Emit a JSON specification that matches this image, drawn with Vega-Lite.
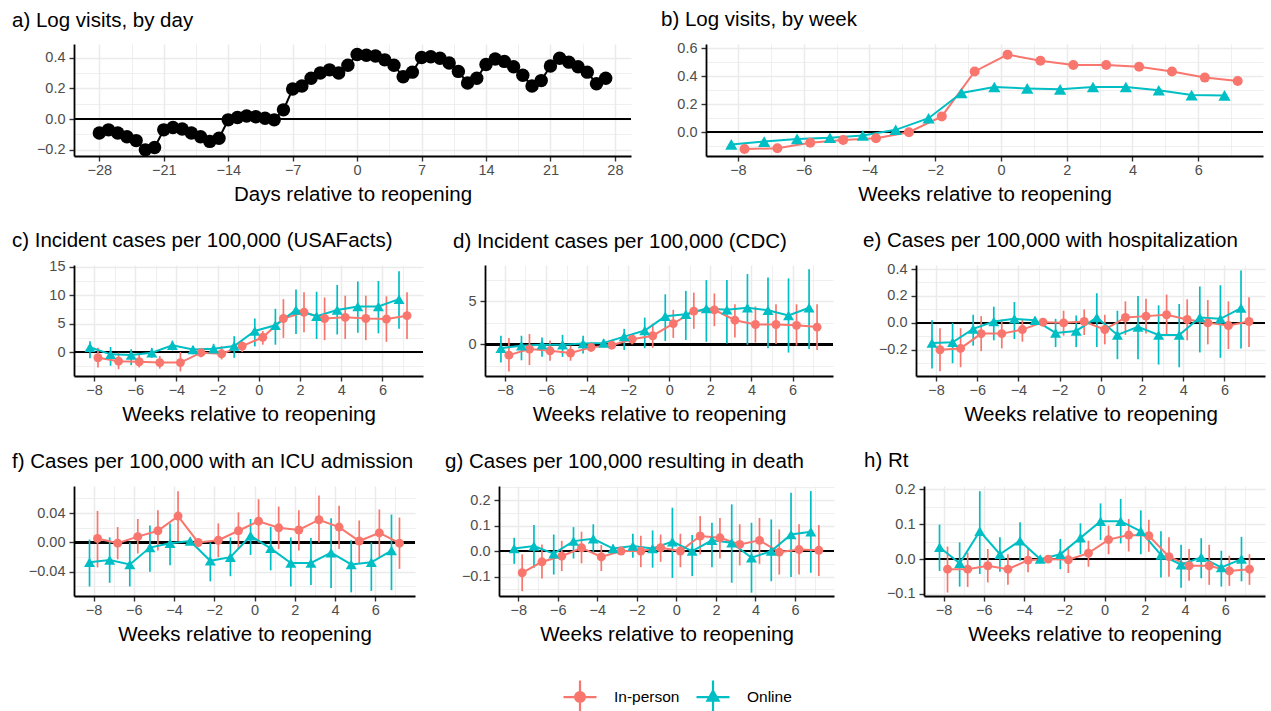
{
  "$schema": "https://vega.github.io/schema/vega-lite/v6.json",
  "background": "white",
  "padding": {"left": 12, "top": 10, "right": 0, "bottom": 0},
  "autosize": {"type": "pad"},
  "datasets": {
    "da": [
      {"d": -28, "v": -0.09}, {"d": -27, "v": -0.07}, {"d": -26, "v": -0.09}, {"d": -25, "v": -0.115}, {"d": -24, "v": -0.14}, {"d": -23, "v": -0.2}, {"d": -22, "v": -0.185}, {"d": -21, "v": -0.07}, {"d": -20, "v": -0.055}, {"d": -19, "v": -0.065}, {"d": -18, "v": -0.09}, {"d": -17, "v": -0.115}, {"d": -16, "v": -0.145}, {"d": -15, "v": -0.125}, {"d": -14, "v": -0.005}, {"d": -13, "v": 0.01}, {"d": -12, "v": 0.02}, {"d": -11, "v": 0.015}, {"d": -10, "v": 0.005}, {"d": -9, "v": -0.005}, {"d": -8, "v": 0.06}, {"d": -7, "v": 0.195}, {"d": -6, "v": 0.215}, {"d": -5, "v": 0.265}, {"d": -4, "v": 0.3}, {"d": -3, "v": 0.32}, {"d": -2, "v": 0.3}, {"d": -1, "v": 0.35}, {"d": 0, "v": 0.42}, {"d": 1, "v": 0.415}, {"d": 2, "v": 0.41}, {"d": 3, "v": 0.385}, {"d": 4, "v": 0.35}, {"d": 5, "v": 0.275}, {"d": 6, "v": 0.305}, {"d": 7, "v": 0.4}, {"d": 8, "v": 0.405}, {"d": 9, "v": 0.395}, {"d": 10, "v": 0.365}, {"d": 11, "v": 0.31}, {"d": 12, "v": 0.235}, {"d": 13, "v": 0.265}, {"d": 14, "v": 0.355}, {"d": 15, "v": 0.39}, {"d": 16, "v": 0.375}, {"d": 17, "v": 0.34}, {"d": 18, "v": 0.285}, {"d": 19, "v": 0.215}, {"d": 20, "v": 0.25}, {"d": 21, "v": 0.345}, {"d": 22, "v": 0.395}, {"d": 23, "v": 0.37}, {"d": 24, "v": 0.34}, {"d": 25, "v": 0.305}, {"d": 26, "v": 0.23}, {"d": 27, "v": 0.265}
    ],
    "db": [
      {"g": "In-person", "w": -8, "e": -0.12, "lo": -0.132, "hi": -0.108}, {"g": "In-person", "w": -7, "e": -0.115, "lo": -0.127, "hi": -0.103}, {"g": "In-person", "w": -6, "e": -0.075, "lo": -0.087, "hi": -0.063}, {"g": "In-person", "w": -5, "e": -0.055, "lo": -0.067, "hi": -0.043}, {"g": "In-person", "w": -4, "e": -0.043, "lo": -0.055, "hi": -0.031}, {"g": "In-person", "w": -3, "e": 0.0, "lo": -0.008, "hi": 0.008}, {"g": "In-person", "w": -2, "e": 0.113, "lo": 0.101, "hi": 0.125}, {"g": "In-person", "w": -1, "e": 0.434, "lo": 0.422, "hi": 0.446}, {"g": "In-person", "w": 0, "e": 0.554, "lo": 0.542, "hi": 0.566}, {"g": "In-person", "w": 1, "e": 0.51, "lo": 0.498, "hi": 0.522}, {"g": "In-person", "w": 2, "e": 0.48, "lo": 0.468, "hi": 0.492}, {"g": "In-person", "w": 3, "e": 0.48, "lo": 0.468, "hi": 0.492}, {"g": "In-person", "w": 4, "e": 0.467, "lo": 0.455, "hi": 0.479}, {"g": "In-person", "w": 5, "e": 0.434, "lo": 0.422, "hi": 0.446}, {"g": "In-person", "w": 6, "e": 0.39, "lo": 0.378, "hi": 0.402}, {"g": "In-person", "w": 7, "e": 0.366, "lo": 0.354, "hi": 0.378},
      {"g": "Online", "w": -8, "e": -0.087, "lo": -0.099, "hi": -0.075}, {"g": "Online", "w": -7, "e": -0.067, "lo": -0.079, "hi": -0.055}, {"g": "Online", "w": -6, "e": -0.048, "lo": -0.06, "hi": -0.036}, {"g": "Online", "w": -5, "e": -0.04, "lo": -0.052, "hi": -0.028}, {"g": "Online", "w": -4, "e": -0.024, "lo": -0.036, "hi": -0.012}, {"g": "Online", "w": -3, "e": 0.017, "lo": 0.009, "hi": 0.025}, {"g": "Online", "w": -2, "e": 0.1, "lo": 0.088, "hi": 0.112}, {"g": "Online", "w": -1, "e": 0.28, "lo": 0.268, "hi": 0.292}, {"g": "Online", "w": 0, "e": 0.323, "lo": 0.311, "hi": 0.335}, {"g": "Online", "w": 1, "e": 0.313, "lo": 0.301, "hi": 0.325}, {"g": "Online", "w": 2, "e": 0.306, "lo": 0.294, "hi": 0.318}, {"g": "Online", "w": 3, "e": 0.323, "lo": 0.311, "hi": 0.335}, {"g": "Online", "w": 4, "e": 0.323, "lo": 0.311, "hi": 0.335}, {"g": "Online", "w": 5, "e": 0.3, "lo": 0.288, "hi": 0.312}, {"g": "Online", "w": 6, "e": 0.265, "lo": 0.253, "hi": 0.277}, {"g": "Online", "w": 7, "e": 0.263, "lo": 0.251, "hi": 0.275}
    ],
    "dc": [
      {"g": "In-person", "w": -8, "e": -1.0, "lo": -2.7, "hi": 0.75}, {"g": "In-person", "w": -7, "e": -1.6, "lo": -3.0, "hi": -0.1}, {"g": "In-person", "w": -6, "e": -1.7, "lo": -2.7, "hi": -0.4}, {"g": "In-person", "w": -5, "e": -1.85, "lo": -2.9, "hi": -0.7}, {"g": "In-person", "w": -4, "e": -1.85, "lo": -3.4, "hi": 0.0}, {"g": "In-person", "w": -3, "e": -0.1, "lo": -0.9, "hi": 0.65}, {"g": "In-person", "w": -2, "e": -0.3, "lo": -1.3, "hi": 1.05}, {"g": "In-person", "w": -1, "e": 1.05, "lo": 0.0, "hi": 1.9}, {"g": "In-person", "w": 0, "e": 2.6, "lo": 1.3, "hi": 3.7}, {"g": "In-person", "w": 1, "e": 5.9, "lo": 2.5, "hi": 9.3}, {"g": "In-person", "w": 2, "e": 7.0, "lo": 3.5, "hi": 10.5}, {"g": "In-person", "w": 3, "e": 5.9, "lo": 2.1, "hi": 9.6}, {"g": "In-person", "w": 4, "e": 6.1, "lo": 2.3, "hi": 9.9}, {"g": "In-person", "w": 5, "e": 5.9, "lo": 2.1, "hi": 9.9}, {"g": "In-person", "w": 6, "e": 5.8, "lo": 1.8, "hi": 9.8}, {"g": "In-person", "w": 7, "e": 6.4, "lo": 2.3, "hi": 10.5},
      {"g": "Online", "w": -8, "e": 0.85, "lo": -1.1, "hi": 1.9}, {"g": "Online", "w": -7, "e": -0.4, "lo": -2.4, "hi": 0.9}, {"g": "Online", "w": -6, "e": -0.5, "lo": -2.3, "hi": 0.5}, {"g": "Online", "w": -5, "e": -0.1, "lo": -1.0, "hi": 0.75}, {"g": "Online", "w": -4, "e": 1.2, "lo": 0.3, "hi": 2.0}, {"g": "Online", "w": -3, "e": 0.45, "lo": -0.4, "hi": 1.05}, {"g": "Online", "w": -2, "e": 0.6, "lo": -0.3, "hi": 1.45}, {"g": "Online", "w": -1, "e": 1.05, "lo": -1.0, "hi": 2.8}, {"g": "Online", "w": 0, "e": 3.7, "lo": 1.0, "hi": 5.9}, {"g": "Online", "w": 1, "e": 4.7, "lo": 1.3, "hi": 7.6}, {"g": "Online", "w": 2, "e": 7.4, "lo": 3.2, "hi": 11.0}, {"g": "Online", "w": 3, "e": 6.3, "lo": 2.3, "hi": 10.6}, {"g": "Online", "w": 4, "e": 7.4, "lo": 3.1, "hi": 11.8}, {"g": "Online", "w": 5, "e": 8.0, "lo": 3.4, "hi": 12.4}, {"g": "Online", "w": 6, "e": 8.0, "lo": 3.3, "hi": 12.5}, {"g": "Online", "w": 7, "e": 9.3, "lo": 4.1, "hi": 14.2}
    ],
    "dd": [
      {"g": "In-person", "w": -8, "e": -1.25, "lo": -3.15, "hi": 0.75}, {"g": "In-person", "w": -7, "e": -0.55, "lo": -2.4, "hi": 1.2}, {"g": "In-person", "w": -6, "e": -0.75, "lo": -1.9, "hi": 0.45}, {"g": "In-person", "w": -5, "e": -1.0, "lo": -1.9, "hi": -0.15}, {"g": "In-person", "w": -4, "e": -0.35, "lo": -0.85, "hi": 0.25}, {"g": "In-person", "w": -3, "e": -0.1, "lo": -0.45, "hi": 0.35}, {"g": "In-person", "w": -2, "e": 0.6, "lo": 0.0, "hi": 1.2}, {"g": "In-person", "w": -1, "e": 1.0, "lo": -0.4, "hi": 2.4}, {"g": "In-person", "w": 0, "e": 2.4, "lo": 0.75, "hi": 4.0}, {"g": "In-person", "w": 1, "e": 3.85, "lo": 1.8, "hi": 6.0}, {"g": "In-person", "w": 2, "e": 4.0, "lo": 2.1, "hi": 5.9}, {"g": "In-person", "w": 3, "e": 2.8, "lo": 0.8, "hi": 4.65}, {"g": "In-person", "w": 4, "e": 2.3, "lo": 0.2, "hi": 4.4}, {"g": "In-person", "w": 5, "e": 2.3, "lo": 0.05, "hi": 4.65}, {"g": "In-person", "w": 6, "e": 2.2, "lo": -0.15, "hi": 4.65}, {"g": "In-person", "w": 7, "e": 2.0, "lo": -0.65, "hi": 4.65},
      {"g": "Online", "w": -8, "e": -0.45, "lo": -2.1, "hi": 1.0}, {"g": "Online", "w": -7, "e": -0.15, "lo": -1.85, "hi": 1.0}, {"g": "Online", "w": -6, "e": -0.05, "lo": -1.45, "hi": 0.8}, {"g": "Online", "w": -5, "e": -0.05, "lo": -1.45, "hi": 1.1}, {"g": "Online", "w": -4, "e": 0.1, "lo": -1.05, "hi": 1.0}, {"g": "Online", "w": -3, "e": 0.15, "lo": -0.35, "hi": 0.6}, {"g": "Online", "w": -2, "e": 0.9, "lo": -0.65, "hi": 1.8}, {"g": "Online", "w": -1, "e": 1.6, "lo": -0.45, "hi": 3.1}, {"g": "Online", "w": 0, "e": 3.25, "lo": 0.4, "hi": 5.8}, {"g": "Online", "w": 1, "e": 3.5, "lo": 0.5, "hi": 6.2}, {"g": "Online", "w": 2, "e": 4.15, "lo": 0.3, "hi": 7.45}, {"g": "Online", "w": 3, "e": 4.0, "lo": 0.1, "hi": 7.45}, {"g": "Online", "w": 4, "e": 4.25, "lo": -0.05, "hi": 8.15}, {"g": "Online", "w": 5, "e": 3.95, "lo": -0.45, "hi": 7.75}, {"g": "Online", "w": 6, "e": 3.35, "lo": -0.95, "hi": 7.65}, {"g": "Online", "w": 7, "e": 4.25, "lo": -0.55, "hi": 8.7}
    ],
    "de": [
      {"g": "In-person", "w": -8, "e": -0.2, "lo": -0.36, "hi": -0.04}, {"g": "In-person", "w": -7, "e": -0.19, "lo": -0.33, "hi": -0.04}, {"g": "In-person", "w": -6, "e": -0.08, "lo": -0.21, "hi": 0.05}, {"g": "In-person", "w": -5, "e": -0.08, "lo": -0.19, "hi": 0.025}, {"g": "In-person", "w": -4, "e": -0.05, "lo": -0.14, "hi": 0.025}, {"g": "In-person", "w": -3, "e": 0.005, "lo": -0.02, "hi": 0.03}, {"g": "In-person", "w": -2, "e": 0.0, "lo": -0.095, "hi": 0.09}, {"g": "In-person", "w": -1, "e": 0.01, "lo": -0.09, "hi": 0.1}, {"g": "In-person", "w": 0, "e": -0.05, "lo": -0.16, "hi": 0.06}, {"g": "In-person", "w": 1, "e": 0.04, "lo": -0.09, "hi": 0.16}, {"g": "In-person", "w": 2, "e": 0.05, "lo": -0.08, "hi": 0.18}, {"g": "In-person", "w": 3, "e": 0.06, "lo": -0.095, "hi": 0.21}, {"g": "In-person", "w": 4, "e": 0.025, "lo": -0.13, "hi": 0.175}, {"g": "In-person", "w": 5, "e": 0.0, "lo": -0.16, "hi": 0.17}, {"g": "In-person", "w": 6, "e": -0.02, "lo": -0.195, "hi": 0.16}, {"g": "In-person", "w": 7, "e": 0.01, "lo": -0.18, "hi": 0.19},
      {"g": "Online", "w": -8, "e": -0.15, "lo": -0.34, "hi": 0.02}, {"g": "Online", "w": -7, "e": -0.145, "lo": -0.3, "hi": 0.0}, {"g": "Online", "w": -6, "e": -0.045, "lo": -0.17, "hi": 0.06}, {"g": "Online", "w": -5, "e": 0.01, "lo": -0.13, "hi": 0.12}, {"g": "Online", "w": -4, "e": 0.03, "lo": -0.12, "hi": 0.155}, {"g": "Online", "w": -3, "e": 0.02, "lo": 0.0, "hi": 0.04}, {"g": "Online", "w": -2, "e": -0.075, "lo": -0.18, "hi": 0.03}, {"g": "Online", "w": -1, "e": -0.06, "lo": -0.18, "hi": 0.055}, {"g": "Online", "w": 0, "e": 0.04, "lo": -0.18, "hi": 0.22}, {"g": "Online", "w": 1, "e": -0.09, "lo": -0.27, "hi": 0.09}, {"g": "Online", "w": 2, "e": -0.03, "lo": -0.27, "hi": 0.2}, {"g": "Online", "w": 3, "e": -0.09, "lo": -0.31, "hi": 0.13}, {"g": "Online", "w": 4, "e": -0.09, "lo": -0.33, "hi": 0.14}, {"g": "Online", "w": 5, "e": 0.04, "lo": -0.22, "hi": 0.27}, {"g": "Online", "w": 6, "e": 0.03, "lo": -0.26, "hi": 0.28}, {"g": "Online", "w": 7, "e": 0.11, "lo": -0.19, "hi": 0.39}
    ],
    "df": [
      {"g": "In-person", "w": -8, "e": 0.0055, "lo": -0.034, "hi": 0.043}, {"g": "In-person", "w": -7, "e": -0.001, "lo": -0.023, "hi": 0.021}, {"g": "In-person", "w": -6, "e": 0.008, "lo": -0.015, "hi": 0.032}, {"g": "In-person", "w": -5, "e": 0.016, "lo": -0.011, "hi": 0.044}, {"g": "In-person", "w": -4, "e": 0.036, "lo": 0.002, "hi": 0.07}, {"g": "In-person", "w": -3, "e": 0.0, "lo": -0.004, "hi": 0.004}, {"g": "In-person", "w": -2, "e": 0.003, "lo": -0.02, "hi": 0.026}, {"g": "In-person", "w": -1, "e": 0.016, "lo": -0.009, "hi": 0.041}, {"g": "In-person", "w": 0, "e": 0.029, "lo": 0.0, "hi": 0.059}, {"g": "In-person", "w": 1, "e": 0.02, "lo": -0.009, "hi": 0.049}, {"g": "In-person", "w": 2, "e": 0.017, "lo": -0.011, "hi": 0.044}, {"g": "In-person", "w": 3, "e": 0.031, "lo": 0.0, "hi": 0.064}, {"g": "In-person", "w": 4, "e": 0.021, "lo": -0.009, "hi": 0.05}, {"g": "In-person", "w": 5, "e": 0.002, "lo": -0.028, "hi": 0.03}, {"g": "In-person", "w": 6, "e": 0.013, "lo": -0.02, "hi": 0.045}, {"g": "In-person", "w": 7, "e": -0.001, "lo": -0.036, "hi": 0.034},
      {"g": "Online", "w": -8, "e": -0.027, "lo": -0.06, "hi": 0.004}, {"g": "Online", "w": -7, "e": -0.024, "lo": -0.055, "hi": 0.007}, {"g": "Online", "w": -6, "e": -0.03, "lo": -0.06, "hi": 0.0}, {"g": "Online", "w": -5, "e": -0.007, "lo": -0.04, "hi": 0.023}, {"g": "Online", "w": -4, "e": -0.001, "lo": -0.031, "hi": 0.026}, {"g": "Online", "w": -3, "e": 0.002, "lo": -0.002, "hi": 0.006}, {"g": "Online", "w": -2, "e": -0.025, "lo": -0.053, "hi": 0.0}, {"g": "Online", "w": -1, "e": -0.02, "lo": -0.046, "hi": 0.007}, {"g": "Online", "w": 0, "e": 0.009, "lo": -0.017, "hi": 0.032}, {"g": "Online", "w": 1, "e": -0.008, "lo": -0.038, "hi": 0.021}, {"g": "Online", "w": 2, "e": -0.028, "lo": -0.06, "hi": 0.007}, {"g": "Online", "w": 3, "e": -0.028, "lo": -0.058, "hi": 0.006}, {"g": "Online", "w": 4, "e": -0.014, "lo": -0.062, "hi": 0.033}, {"g": "Online", "w": 5, "e": -0.03, "lo": -0.068, "hi": 0.003}, {"g": "Online", "w": 6, "e": -0.027, "lo": -0.066, "hi": 0.0}, {"g": "Online", "w": 7, "e": -0.011, "lo": -0.065, "hi": 0.038}
    ],
    "dg": [
      {"g": "In-person", "w": -8, "e": -0.085, "lo": -0.157, "hi": -0.013}, {"g": "In-person", "w": -7, "e": -0.042, "lo": -0.107, "hi": 0.026}, {"g": "In-person", "w": -6, "e": -0.02, "lo": -0.078, "hi": 0.04}, {"g": "In-person", "w": -5, "e": 0.013, "lo": -0.048, "hi": 0.076}, {"g": "In-person", "w": -4, "e": -0.023, "lo": -0.078, "hi": 0.024}, {"g": "In-person", "w": -3, "e": 0.0, "lo": -0.013, "hi": 0.013}, {"g": "In-person", "w": -2, "e": 0.0, "lo": -0.063, "hi": 0.06}, {"g": "In-person", "w": -1, "e": 0.013, "lo": -0.042, "hi": 0.065}, {"g": "In-person", "w": 0, "e": 0.0, "lo": -0.063, "hi": 0.068}, {"g": "In-person", "w": 1, "e": 0.059, "lo": -0.013, "hi": 0.137}, {"g": "In-person", "w": 2, "e": 0.052, "lo": -0.029, "hi": 0.13}, {"g": "In-person", "w": 3, "e": 0.026, "lo": -0.056, "hi": 0.105}, {"g": "In-person", "w": 4, "e": 0.042, "lo": -0.05, "hi": 0.13}, {"g": "In-person", "w": 5, "e": -0.004, "lo": -0.092, "hi": 0.085}, {"g": "In-person", "w": 6, "e": 0.006, "lo": -0.092, "hi": 0.105}, {"g": "In-person", "w": 7, "e": 0.003, "lo": -0.098, "hi": 0.102},
      {"g": "Online", "w": -8, "e": 0.01, "lo": -0.05, "hi": 0.052}, {"g": "Online", "w": -7, "e": 0.02, "lo": -0.065, "hi": 0.102}, {"g": "Online", "w": -6, "e": -0.01, "lo": -0.092, "hi": 0.065}, {"g": "Online", "w": -5, "e": 0.039, "lo": -0.029, "hi": 0.094}, {"g": "Online", "w": -4, "e": 0.048, "lo": -0.007, "hi": 0.105}, {"g": "Online", "w": -3, "e": 0.01, "lo": -0.006, "hi": 0.026}, {"g": "Online", "w": -2, "e": 0.02, "lo": -0.026, "hi": 0.068}, {"g": "Online", "w": -1, "e": 0.01, "lo": -0.065, "hi": 0.081}, {"g": "Online", "w": 0, "e": 0.037, "lo": -0.105, "hi": 0.17}, {"g": "Online", "w": 1, "e": 0.0, "lo": -0.098, "hi": 0.063}, {"g": "Online", "w": 2, "e": 0.042, "lo": -0.063, "hi": 0.111}, {"g": "Online", "w": 3, "e": 0.033, "lo": -0.124, "hi": 0.183}, {"g": "Online", "w": 4, "e": -0.026, "lo": -0.163, "hi": 0.111}, {"g": "Online", "w": 5, "e": 0.0, "lo": -0.118, "hi": 0.124}, {"g": "Online", "w": 6, "e": 0.065, "lo": -0.102, "hi": 0.229}, {"g": "Online", "w": 7, "e": 0.076, "lo": -0.085, "hi": 0.235}
    ],
    "dh": [
      {"g": "In-person", "w": -8, "e": -0.029, "lo": -0.096, "hi": 0.036}, {"g": "In-person", "w": -7, "e": -0.029, "lo": -0.08, "hi": 0.019}, {"g": "In-person", "w": -6, "e": -0.019, "lo": -0.067, "hi": 0.029}, {"g": "In-person", "w": -5, "e": -0.029, "lo": -0.074, "hi": 0.014}, {"g": "In-person", "w": -4, "e": -0.003, "lo": -0.038, "hi": 0.032}, {"g": "In-person", "w": -3, "e": 0.0, "lo": -0.01, "hi": 0.01}, {"g": "In-person", "w": -2, "e": -0.002, "lo": -0.04, "hi": 0.036}, {"g": "In-person", "w": -1, "e": 0.017, "lo": -0.022, "hi": 0.053}, {"g": "In-person", "w": 0, "e": 0.056, "lo": 0.014, "hi": 0.096}, {"g": "In-person", "w": 1, "e": 0.069, "lo": 0.022, "hi": 0.115}, {"g": "In-person", "w": 2, "e": 0.067, "lo": 0.021, "hi": 0.113}, {"g": "In-person", "w": 3, "e": 0.007, "lo": -0.051, "hi": 0.063}, {"g": "In-person", "w": 4, "e": -0.019, "lo": -0.062, "hi": 0.029}, {"g": "In-person", "w": 5, "e": -0.019, "lo": -0.074, "hi": 0.041}, {"g": "In-person", "w": 6, "e": -0.034, "lo": -0.077, "hi": 0.01}, {"g": "In-person", "w": 7, "e": -0.029, "lo": -0.074, "hi": 0.014},
      {"g": "Online", "w": -8, "e": 0.034, "lo": -0.034, "hi": 0.099}, {"g": "Online", "w": -7, "e": -0.012, "lo": -0.079, "hi": 0.048}, {"g": "Online", "w": -6, "e": 0.08, "lo": -0.043, "hi": 0.195}, {"g": "Online", "w": -5, "e": 0.014, "lo": -0.036, "hi": 0.063}, {"g": "Online", "w": -4, "e": 0.053, "lo": -0.005, "hi": 0.106}, {"g": "Online", "w": -3, "e": 0.0, "lo": -0.008, "hi": 0.008}, {"g": "Online", "w": -2, "e": 0.014, "lo": -0.029, "hi": 0.058}, {"g": "Online", "w": -1, "e": 0.061, "lo": 0.014, "hi": 0.103}, {"g": "Online", "w": 0, "e": 0.109, "lo": 0.055, "hi": 0.16}, {"g": "Online", "w": 1, "e": 0.109, "lo": 0.045, "hi": 0.173}, {"g": "Online", "w": 2, "e": 0.08, "lo": 0.014, "hi": 0.14}, {"g": "Online", "w": 3, "e": 0.012, "lo": -0.053, "hi": 0.08}, {"g": "Online", "w": 4, "e": -0.016, "lo": -0.082, "hi": 0.041}, {"g": "Online", "w": 5, "e": 0.005, "lo": -0.055, "hi": 0.06}, {"g": "Online", "w": 6, "e": -0.024, "lo": -0.079, "hi": 0.024}, {"g": "Online", "w": 7, "e": 0.0, "lo": -0.064, "hi": 0.064}
    ]
  },
  "vconcat": [
    {
      "hconcat": [
        {
          "width": 557, "height": 112,
          "title": {"text": "a) Log visits, by day", "dx": -62, "offset": 12.5},
          "data": {"name": "da"},
          "layer": [
            {"mark": {"type": "rule", "color": "black", "strokeWidth": 1.6},
             "encoding": {"y": {"datum": 0, "type": "quantitative", "scale": {"domain": [-0.24, 0.488], "nice": false, "zero": false},
               "axis": {"title": null, "tickCount": 100, "labelOverlap": false, "values": [-0.2, -0.1, 0, 0.1, 0.2, 0.3, 0.4], "format": ".1f", "minExtent": 62, "maxExtent": 62,
                 "labelExpr": "abs(datum.value/0.2 - round(datum.value/0.2)) > 0.01 ? '' : datum.label",
                 "labelFontSize": {"condition": {"test": "abs(datum.value/0.2 - round(datum.value/0.2)) > 0.01", "value": 0}, "value": 14.5},
                 "gridWidth": {"condition": {"test": "abs(datum.value/0.2 - round(datum.value/0.2)) > 0.01", "value": 0.8}, "value": 1.5},
                 "tickOpacity": {"condition": {"test": "abs(datum.value/0.2 - round(datum.value/0.2)) > 0.01", "value": 0}, "value": 1}}}}},
            {"mark": {"type": "line", "color": "black", "strokeWidth": 2},
             "encoding": {"x": {"field": "d", "type": "quantitative", "scale": {"domain": [-30.75, 29.75], "nice": false, "zero": false},
               "axis": {"title": "Days relative to reopening", "tickCount": 100, "labelOverlap": false, "values": [-28, -24.5, -21, -17.5, -14, -10.5, -7, -3.5, 0, 3.5, 7, 10.5, 14, 17.5, 21, 24.5, 28], "format": "d",
                 "labelExpr": "datum.value % 7 != 0 ? '' : datum.label",
                 "tickOpacity": {"condition": {"test": "datum.value % 7 != 0", "value": 0}, "value": 1},
                 "gridWidth": {"condition": {"test": "datum.value % 7 != 0", "value": 0.8}, "value": 1.5}}},
               "y": {"field": "v", "type": "quantitative"}}},
            {"mark": {"type": "point", "shape": "circle", "filled": true, "opacity": 1, "size": 180, "color": "black"},
             "encoding": {"x": {"field": "d", "type": "quantitative"}, "y": {"field": "v", "type": "quantitative"}}}
          ]
        },
        {
          "width": 557, "height": 112,
          "title": {"text": "b) Log visits, by week", "dx": -45, "offset": 9.5},
          "data": {"name": "db"},
          "layer": [
            {"mark": {"type": "rule", "color": "black", "strokeWidth": 1.6},
             "encoding": {"y": {"datum": 0, "type": "quantitative", "scale": {"domain": [-0.17, 0.63], "nice": false, "zero": false},
               "axis": {"title": null, "tickCount": 100, "labelOverlap": false, "values": [-0.1, 0, 0.1, 0.2, 0.3, 0.4, 0.5, 0.6], "format": ".1f", "minExtent": 45, "maxExtent": 45,
                 "labelExpr": "abs(datum.value/0.2 - round(datum.value/0.2)) > 0.01 ? '' : datum.label",
                 "labelFontSize": {"condition": {"test": "abs(datum.value/0.2 - round(datum.value/0.2)) > 0.01", "value": 0}, "value": 14.5},
                 "gridWidth": {"condition": {"test": "abs(datum.value/0.2 - round(datum.value/0.2)) > 0.01", "value": 0.8}, "value": 1.5},
                 "tickOpacity": {"condition": {"test": "abs(datum.value/0.2 - round(datum.value/0.2)) > 0.01", "value": 0}, "value": 1}}}}},
            {"transform": [{"filter": "datum.g == 'In-person'"}], "mark": {"type": "rule", "color": "#F8766D", "strokeWidth": 1.7, "xOffset": 6.6},
             "encoding": {"x": {"field": "w", "type": "quantitative", "scale": {"domain": [-8.97, 7.97], "nice": false, "zero": false},
               "axis": {"title": "Weeks relative to reopening", "tickCount": 100, "labelOverlap": false, "values": [-8, -7, -6, -5, -4, -3, -2, -1, 0, 1, 2, 3, 4, 5, 6, 7], "format": "d",
                 "labelExpr": "datum.value % 2 == 0 ? datum.label : ''",
                 "tickOpacity": {"condition": {"test": "datum.value % 2 != 0", "value": 0}, "value": 1},
                 "gridWidth": {"condition": {"test": "datum.value % 2 != 0", "value": 0.8}, "value": 1.5}}},
               "y": {"field": "lo", "type": "quantitative"}, "y2": {"field": "hi"}}},
            {"transform": [{"filter": "datum.g == 'Online'"}], "mark": {"type": "rule", "color": "#00BFC4", "strokeWidth": 1.7, "xOffset": -6.6},
             "encoding": {"x": {"field": "w", "type": "quantitative"}, "y": {"field": "lo", "type": "quantitative"}, "y2": {"field": "hi"}}},
            {"transform": [{"filter": "datum.g == 'In-person'"}], "mark": {"type": "line", "color": "#F8766D", "strokeWidth": 2, "xOffset": 6.6},
             "encoding": {"x": {"field": "w", "type": "quantitative"}, "y": {"field": "e", "type": "quantitative"}}},
            {"transform": [{"filter": "datum.g == 'Online'"}], "mark": {"type": "line", "color": "#00BFC4", "strokeWidth": 2, "xOffset": -6.6},
             "encoding": {"x": {"field": "w", "type": "quantitative"}, "y": {"field": "e", "type": "quantitative"}}},
            {"transform": [{"filter": "datum.g == 'In-person'"}], "mark": {"type": "point", "shape": "circle", "filled": true, "opacity": 1, "size": 100, "color": "#F8766D", "xOffset": 6.6},
             "encoding": {"x": {"field": "w", "type": "quantitative"}, "y": {"field": "e", "type": "quantitative"}}},
            {"transform": [{"filter": "datum.g == 'Online'"}], "mark": {"type": "point", "shape": "triangle-up", "filled": true, "opacity": 1, "size": 150, "color": "#00BFC4", "xOffset": -6.6},
             "encoding": {"x": {"field": "w", "type": "quantitative"}, "y": {"field": "e", "type": "quantitative"}}}
          ]
        }
      ],
      "spacing": 29
    },
    {
      "hconcat": [
        {
          "width": 349, "height": 111,
          "title": {"text": "c) Incident cases per 100,000 (USAFacts)", "dx": -62, "offset": 7},
          "data": {"name": "dc"},
          "layer": [
            {"mark": {"type": "rule", "color": "black", "strokeWidth": 1.6},
             "encoding": {"y": {"datum": 0, "type": "quantitative", "scale": {"domain": [-4.2, 15.3], "nice": false, "zero": false},
               "axis": {"title": null, "tickCount": 100, "labelOverlap": false, "values": [-2.5, 0, 2.5, 5, 7.5, 10, 12.5, 15], "format": "d", "minExtent": 62, "maxExtent": 62,
                 "labelExpr": "abs(datum.value/5 - round(datum.value/5)) > 0.01 ? '' : datum.label",
                 "labelFontSize": {"condition": {"test": "abs(datum.value/5 - round(datum.value/5)) > 0.01", "value": 0}, "value": 14.5},
                 "gridWidth": {"condition": {"test": "abs(datum.value/5 - round(datum.value/5)) > 0.01", "value": 0.8}, "value": 1.5},
                 "tickOpacity": {"condition": {"test": "abs(datum.value/5 - round(datum.value/5)) > 0.01", "value": 0}, "value": 1}}}}},
            {"transform": [{"filter": "datum.g == 'In-person'"}], "mark": {"type": "rule", "color": "#F8766D", "strokeWidth": 1.7, "xOffset": 4},
             "encoding": {"x": {"field": "w", "type": "quantitative", "scale": {"domain": [-8.97, 7.97], "nice": false, "zero": false},
               "axis": {"title": "Weeks relative to reopening", "tickCount": 100, "labelOverlap": false, "values": [-8, -7, -6, -5, -4, -3, -2, -1, 0, 1, 2, 3, 4, 5, 6, 7], "format": "d",
                 "labelExpr": "datum.value % 2 == 0 ? datum.label : ''",
                 "tickOpacity": {"condition": {"test": "datum.value % 2 != 0", "value": 0}, "value": 1},
                 "gridWidth": {"condition": {"test": "datum.value % 2 != 0", "value": 0.8}, "value": 1.5}}},
               "y": {"field": "lo", "type": "quantitative"}, "y2": {"field": "hi"}}},
            {"transform": [{"filter": "datum.g == 'Online'"}], "mark": {"type": "rule", "color": "#00BFC4", "strokeWidth": 1.7, "xOffset": -4},
             "encoding": {"x": {"field": "w", "type": "quantitative"}, "y": {"field": "lo", "type": "quantitative"}, "y2": {"field": "hi"}}},
            {"transform": [{"filter": "datum.g == 'In-person'"}], "mark": {"type": "line", "color": "#F8766D", "strokeWidth": 2, "xOffset": 4},
             "encoding": {"x": {"field": "w", "type": "quantitative"}, "y": {"field": "e", "type": "quantitative"}}},
            {"transform": [{"filter": "datum.g == 'Online'"}], "mark": {"type": "line", "color": "#00BFC4", "strokeWidth": 2, "xOffset": -4},
             "encoding": {"x": {"field": "w", "type": "quantitative"}, "y": {"field": "e", "type": "quantitative"}}},
            {"transform": [{"filter": "datum.g == 'In-person'"}], "mark": {"type": "point", "shape": "circle", "filled": true, "opacity": 1, "size": 80, "color": "#F8766D", "xOffset": 4},
             "encoding": {"x": {"field": "w", "type": "quantitative"}, "y": {"field": "e", "type": "quantitative"}}},
            {"transform": [{"filter": "datum.g == 'Online'"}], "mark": {"type": "point", "shape": "triangle-up", "filled": true, "opacity": 1, "size": 120, "color": "#00BFC4", "xOffset": -4},
             "encoding": {"x": {"field": "w", "type": "quantitative"}, "y": {"field": "e", "type": "quantitative"}}}
          ]
        },
        {
          "width": 348, "height": 111,
          "title": {"text": "d) Incident cases per 100,000 (CDC)", "dx": -32, "offset": 12.5},
          "data": {"name": "dd"},
          "layer": [
            {"mark": {"type": "rule", "color": "black", "strokeWidth": 1.6},
             "encoding": {"y": {"datum": 0, "type": "quantitative", "scale": {"domain": [-3.67, 9.2], "nice": false, "zero": false},
               "axis": {"title": null, "tickCount": 100, "labelOverlap": false, "values": [-2.5, 0, 2.5, 5, 7.5], "format": "d", "minExtent": 32, "maxExtent": 32,
                 "labelExpr": "abs(datum.value/5 - round(datum.value/5)) > 0.01 ? '' : datum.label",
                 "labelFontSize": {"condition": {"test": "abs(datum.value/5 - round(datum.value/5)) > 0.01", "value": 0}, "value": 14.5},
                 "gridWidth": {"condition": {"test": "abs(datum.value/5 - round(datum.value/5)) > 0.01", "value": 0.8}, "value": 1.5},
                 "tickOpacity": {"condition": {"test": "abs(datum.value/5 - round(datum.value/5)) > 0.01", "value": 0}, "value": 1}}}}},
            {"transform": [{"filter": "datum.g == 'In-person'"}], "mark": {"type": "rule", "color": "#F8766D", "strokeWidth": 1.7, "xOffset": 4},
             "encoding": {"x": {"field": "w", "type": "quantitative", "scale": {"domain": [-8.97, 7.97], "nice": false, "zero": false},
               "axis": {"title": "Weeks relative to reopening", "tickCount": 100, "labelOverlap": false, "values": [-8, -7, -6, -5, -4, -3, -2, -1, 0, 1, 2, 3, 4, 5, 6, 7], "format": "d",
                 "labelExpr": "datum.value % 2 == 0 ? datum.label : ''",
                 "tickOpacity": {"condition": {"test": "datum.value % 2 != 0", "value": 0}, "value": 1},
                 "gridWidth": {"condition": {"test": "datum.value % 2 != 0", "value": 0.8}, "value": 1.5}}},
               "y": {"field": "lo", "type": "quantitative"}, "y2": {"field": "hi"}}},
            {"transform": [{"filter": "datum.g == 'Online'"}], "mark": {"type": "rule", "color": "#00BFC4", "strokeWidth": 1.7, "xOffset": -4},
             "encoding": {"x": {"field": "w", "type": "quantitative"}, "y": {"field": "lo", "type": "quantitative"}, "y2": {"field": "hi"}}},
            {"transform": [{"filter": "datum.g == 'In-person'"}], "mark": {"type": "line", "color": "#F8766D", "strokeWidth": 2, "xOffset": 4},
             "encoding": {"x": {"field": "w", "type": "quantitative"}, "y": {"field": "e", "type": "quantitative"}}},
            {"transform": [{"filter": "datum.g == 'Online'"}], "mark": {"type": "line", "color": "#00BFC4", "strokeWidth": 2, "xOffset": -4},
             "encoding": {"x": {"field": "w", "type": "quantitative"}, "y": {"field": "e", "type": "quantitative"}}},
            {"transform": [{"filter": "datum.g == 'In-person'"}], "mark": {"type": "point", "shape": "circle", "filled": true, "opacity": 1, "size": 80, "color": "#F8766D", "xOffset": 4},
             "encoding": {"x": {"field": "w", "type": "quantitative"}, "y": {"field": "e", "type": "quantitative"}}},
            {"transform": [{"filter": "datum.g == 'Online'"}], "mark": {"type": "point", "shape": "triangle-up", "filled": true, "opacity": 1, "size": 120, "color": "#00BFC4", "xOffset": -4},
             "encoding": {"x": {"field": "w", "type": "quantitative"}, "y": {"field": "e", "type": "quantitative"}}}
          ]
        },
        {
          "width": 349, "height": 111,
          "title": {"text": "e) Cases per 100,000 with hospitalization", "dx": -53, "offset": 9.3},
          "data": {"name": "de"},
          "layer": [
            {"mark": {"type": "rule", "color": "black", "strokeWidth": 1.6},
             "encoding": {"y": {"datum": 0, "type": "quantitative", "scale": {"domain": [-0.395, 0.43], "nice": false, "zero": false},
               "axis": {"title": null, "tickCount": 100, "labelOverlap": false, "values": [-0.3, -0.2, -0.1, 0, 0.1, 0.2, 0.3, 0.4], "format": ".1f", "minExtent": 53, "maxExtent": 53,
                 "labelExpr": "abs(datum.value/0.2 - round(datum.value/0.2)) > 0.01 ? '' : datum.label",
                 "labelFontSize": {"condition": {"test": "abs(datum.value/0.2 - round(datum.value/0.2)) > 0.01", "value": 0}, "value": 14.5},
                 "gridWidth": {"condition": {"test": "abs(datum.value/0.2 - round(datum.value/0.2)) > 0.01", "value": 0.8}, "value": 1.5},
                 "tickOpacity": {"condition": {"test": "abs(datum.value/0.2 - round(datum.value/0.2)) > 0.01", "value": 0}, "value": 1}}}}},
            {"transform": [{"filter": "datum.g == 'In-person'"}], "mark": {"type": "rule", "color": "#F8766D", "strokeWidth": 1.7, "xOffset": 4},
             "encoding": {"x": {"field": "w", "type": "quantitative", "scale": {"domain": [-8.97, 7.97], "nice": false, "zero": false},
               "axis": {"title": "Weeks relative to reopening", "tickCount": 100, "labelOverlap": false, "values": [-8, -7, -6, -5, -4, -3, -2, -1, 0, 1, 2, 3, 4, 5, 6, 7], "format": "d",
                 "labelExpr": "datum.value % 2 == 0 ? datum.label : ''",
                 "tickOpacity": {"condition": {"test": "datum.value % 2 != 0", "value": 0}, "value": 1},
                 "gridWidth": {"condition": {"test": "datum.value % 2 != 0", "value": 0.8}, "value": 1.5}}},
               "y": {"field": "lo", "type": "quantitative"}, "y2": {"field": "hi"}}},
            {"transform": [{"filter": "datum.g == 'Online'"}], "mark": {"type": "rule", "color": "#00BFC4", "strokeWidth": 1.7, "xOffset": -4},
             "encoding": {"x": {"field": "w", "type": "quantitative"}, "y": {"field": "lo", "type": "quantitative"}, "y2": {"field": "hi"}}},
            {"transform": [{"filter": "datum.g == 'In-person'"}], "mark": {"type": "line", "color": "#F8766D", "strokeWidth": 2, "xOffset": 4},
             "encoding": {"x": {"field": "w", "type": "quantitative"}, "y": {"field": "e", "type": "quantitative"}}},
            {"transform": [{"filter": "datum.g == 'Online'"}], "mark": {"type": "line", "color": "#00BFC4", "strokeWidth": 2, "xOffset": -4},
             "encoding": {"x": {"field": "w", "type": "quantitative"}, "y": {"field": "e", "type": "quantitative"}}},
            {"transform": [{"filter": "datum.g == 'In-person'"}], "mark": {"type": "point", "shape": "circle", "filled": true, "opacity": 1, "size": 80, "color": "#F8766D", "xOffset": 4},
             "encoding": {"x": {"field": "w", "type": "quantitative"}, "y": {"field": "e", "type": "quantitative"}}},
            {"transform": [{"filter": "datum.g == 'Online'"}], "mark": {"type": "point", "shape": "triangle-up", "filled": true, "opacity": 1, "size": 120, "color": "#00BFC4", "xOffset": -4},
             "encoding": {"x": {"field": "w", "type": "quantitative"}, "y": {"field": "e", "type": "quantitative"}}}
          ]
        }
      ],
      "spacing": 29
    },
    {
      "hconcat": [
        {
          "width": 341, "height": 110,
          "title": {"text": "f) Cases per 100,000 with an ICU admission", "dx": -62, "offset": 13.5},
          "data": {"name": "df"},
          "layer": [
            {"mark": {"type": "rule", "color": "black", "strokeWidth": 1.6},
             "encoding": {"y": {"datum": 0, "type": "quantitative", "scale": {"domain": [-0.073, 0.077], "nice": false, "zero": false},
               "axis": {"title": null, "tickCount": 100, "labelOverlap": false, "values": [-0.06, -0.04, -0.02, 0, 0.02, 0.04, 0.06], "format": ".2f", "minExtent": 62, "maxExtent": 62,
                 "labelExpr": "abs(datum.value/0.04 - round(datum.value/0.04)) > 0.01 ? '' : datum.label",
                 "labelFontSize": {"condition": {"test": "abs(datum.value/0.04 - round(datum.value/0.04)) > 0.01", "value": 0}, "value": 14.5},
                 "gridWidth": {"condition": {"test": "abs(datum.value/0.04 - round(datum.value/0.04)) > 0.01", "value": 0.8}, "value": 1.5},
                 "tickOpacity": {"condition": {"test": "abs(datum.value/0.04 - round(datum.value/0.04)) > 0.01", "value": 0}, "value": 1}}}}},
            {"transform": [{"filter": "datum.g == 'In-person'"}], "mark": {"type": "rule", "color": "#F8766D", "strokeWidth": 1.7, "xOffset": 4},
             "encoding": {"x": {"field": "w", "type": "quantitative", "scale": {"domain": [-8.97, 7.97], "nice": false, "zero": false},
               "axis": {"title": "Weeks relative to reopening", "tickCount": 100, "labelOverlap": false, "values": [-8, -7, -6, -5, -4, -3, -2, -1, 0, 1, 2, 3, 4, 5, 6, 7], "format": "d",
                 "labelExpr": "datum.value % 2 == 0 ? datum.label : ''",
                 "tickOpacity": {"condition": {"test": "datum.value % 2 != 0", "value": 0}, "value": 1},
                 "gridWidth": {"condition": {"test": "datum.value % 2 != 0", "value": 0.8}, "value": 1.5}}},
               "y": {"field": "lo", "type": "quantitative"}, "y2": {"field": "hi"}}},
            {"transform": [{"filter": "datum.g == 'Online'"}], "mark": {"type": "rule", "color": "#00BFC4", "strokeWidth": 1.7, "xOffset": -4},
             "encoding": {"x": {"field": "w", "type": "quantitative"}, "y": {"field": "lo", "type": "quantitative"}, "y2": {"field": "hi"}}},
            {"transform": [{"filter": "datum.g == 'In-person'"}], "mark": {"type": "line", "color": "#F8766D", "strokeWidth": 2, "xOffset": 4},
             "encoding": {"x": {"field": "w", "type": "quantitative"}, "y": {"field": "e", "type": "quantitative"}}},
            {"transform": [{"filter": "datum.g == 'Online'"}], "mark": {"type": "line", "color": "#00BFC4", "strokeWidth": 2, "xOffset": -4},
             "encoding": {"x": {"field": "w", "type": "quantitative"}, "y": {"field": "e", "type": "quantitative"}}},
            {"transform": [{"filter": "datum.g == 'In-person'"}], "mark": {"type": "point", "shape": "circle", "filled": true, "opacity": 1, "size": 80, "color": "#F8766D", "xOffset": 4},
             "encoding": {"x": {"field": "w", "type": "quantitative"}, "y": {"field": "e", "type": "quantitative"}}},
            {"transform": [{"filter": "datum.g == 'Online'"}], "mark": {"type": "point", "shape": "triangle-up", "filled": true, "opacity": 1, "size": 120, "color": "#00BFC4", "xOffset": -4},
             "encoding": {"x": {"field": "w", "type": "quantitative"}, "y": {"field": "e", "type": "quantitative"}}}
          ]
        },
        {
          "width": 335, "height": 110,
          "title": {"text": "g) Cases per 100,000 resulting in death", "dx": -54, "offset": 13.5},
          "data": {"name": "dg"},
          "layer": [
            {"mark": {"type": "rule", "color": "black", "strokeWidth": 1.6},
             "encoding": {"y": {"datum": 0, "type": "quantitative", "scale": {"domain": [-0.176, 0.255], "nice": false, "zero": false},
               "axis": {"title": null, "tickCount": 100, "labelOverlap": false, "values": [-0.15, -0.1, -0.05, 0, 0.05, 0.1, 0.15, 0.2, 0.25], "format": ".1f", "minExtent": 54, "maxExtent": 54,
                 "labelExpr": "abs(datum.value/0.1 - round(datum.value/0.1)) > 0.01 ? '' : datum.label",
                 "labelFontSize": {"condition": {"test": "abs(datum.value/0.1 - round(datum.value/0.1)) > 0.01", "value": 0}, "value": 14.5},
                 "gridWidth": {"condition": {"test": "abs(datum.value/0.1 - round(datum.value/0.1)) > 0.01", "value": 0.8}, "value": 1.5},
                 "tickOpacity": {"condition": {"test": "abs(datum.value/0.1 - round(datum.value/0.1)) > 0.01", "value": 0}, "value": 1}}}}},
            {"transform": [{"filter": "datum.g == 'In-person'"}], "mark": {"type": "rule", "color": "#F8766D", "strokeWidth": 1.7, "xOffset": 4},
             "encoding": {"x": {"field": "w", "type": "quantitative", "scale": {"domain": [-8.97, 7.97], "nice": false, "zero": false},
               "axis": {"title": "Weeks relative to reopening", "tickCount": 100, "labelOverlap": false, "values": [-8, -7, -6, -5, -4, -3, -2, -1, 0, 1, 2, 3, 4, 5, 6, 7], "format": "d",
                 "labelExpr": "datum.value % 2 == 0 ? datum.label : ''",
                 "tickOpacity": {"condition": {"test": "datum.value % 2 != 0", "value": 0}, "value": 1},
                 "gridWidth": {"condition": {"test": "datum.value % 2 != 0", "value": 0.8}, "value": 1.5}}},
               "y": {"field": "lo", "type": "quantitative"}, "y2": {"field": "hi"}}},
            {"transform": [{"filter": "datum.g == 'Online'"}], "mark": {"type": "rule", "color": "#00BFC4", "strokeWidth": 1.7, "xOffset": -4},
             "encoding": {"x": {"field": "w", "type": "quantitative"}, "y": {"field": "lo", "type": "quantitative"}, "y2": {"field": "hi"}}},
            {"transform": [{"filter": "datum.g == 'In-person'"}], "mark": {"type": "line", "color": "#F8766D", "strokeWidth": 2, "xOffset": 4},
             "encoding": {"x": {"field": "w", "type": "quantitative"}, "y": {"field": "e", "type": "quantitative"}}},
            {"transform": [{"filter": "datum.g == 'Online'"}], "mark": {"type": "line", "color": "#00BFC4", "strokeWidth": 2, "xOffset": -4},
             "encoding": {"x": {"field": "w", "type": "quantitative"}, "y": {"field": "e", "type": "quantitative"}}},
            {"transform": [{"filter": "datum.g == 'In-person'"}], "mark": {"type": "point", "shape": "circle", "filled": true, "opacity": 1, "size": 80, "color": "#F8766D", "xOffset": 4},
             "encoding": {"x": {"field": "w", "type": "quantitative"}, "y": {"field": "e", "type": "quantitative"}}},
            {"transform": [{"filter": "datum.g == 'Online'"}], "mark": {"type": "point", "shape": "triangle-up", "filled": true, "opacity": 1, "size": 120, "color": "#00BFC4", "xOffset": -4},
             "encoding": {"x": {"field": "w", "type": "quantitative"}, "y": {"field": "e", "type": "quantitative"}}}
          ]
        },
        {
          "width": 341, "height": 110,
          "title": {"text": "h) Rt", "dx": -60, "offset": 9.75},
          "data": {"name": "dh"},
          "layer": [
            {"mark": {"type": "rule", "color": "black", "strokeWidth": 1.6},
             "encoding": {"y": {"datum": 0, "type": "quantitative", "scale": {"domain": [-0.106, 0.21], "nice": false, "zero": false},
               "axis": {"title": null, "tickCount": 100, "labelOverlap": false, "values": [-0.1, -0.05, 0, 0.05, 0.1, 0.15, 0.2], "format": ".1f", "minExtent": 60, "maxExtent": 60,
                 "labelExpr": "abs(datum.value/0.1 - round(datum.value/0.1)) > 0.01 ? '' : datum.label",
                 "labelFontSize": {"condition": {"test": "abs(datum.value/0.1 - round(datum.value/0.1)) > 0.01", "value": 0}, "value": 14.5},
                 "gridWidth": {"condition": {"test": "abs(datum.value/0.1 - round(datum.value/0.1)) > 0.01", "value": 0.8}, "value": 1.5},
                 "tickOpacity": {"condition": {"test": "abs(datum.value/0.1 - round(datum.value/0.1)) > 0.01", "value": 0}, "value": 1}}}}},
            {"transform": [{"filter": "datum.g == 'In-person'"}], "mark": {"type": "rule", "color": "#F8766D", "strokeWidth": 1.7, "xOffset": 4},
             "encoding": {"x": {"field": "w", "type": "quantitative", "scale": {"domain": [-8.97, 7.97], "nice": false, "zero": false},
               "axis": {"title": "Weeks relative to reopening", "tickCount": 100, "labelOverlap": false, "values": [-8, -7, -6, -5, -4, -3, -2, -1, 0, 1, 2, 3, 4, 5, 6, 7], "format": "d",
                 "labelExpr": "datum.value % 2 == 0 ? datum.label : ''",
                 "tickOpacity": {"condition": {"test": "datum.value % 2 != 0", "value": 0}, "value": 1},
                 "gridWidth": {"condition": {"test": "datum.value % 2 != 0", "value": 0.8}, "value": 1.5}}},
               "y": {"field": "lo", "type": "quantitative"}, "y2": {"field": "hi"}}},
            {"transform": [{"filter": "datum.g == 'Online'"}], "mark": {"type": "rule", "color": "#00BFC4", "strokeWidth": 1.7, "xOffset": -4},
             "encoding": {"x": {"field": "w", "type": "quantitative"}, "y": {"field": "lo", "type": "quantitative"}, "y2": {"field": "hi"}}},
            {"transform": [{"filter": "datum.g == 'In-person'"}], "mark": {"type": "line", "color": "#F8766D", "strokeWidth": 2, "xOffset": 4},
             "encoding": {"x": {"field": "w", "type": "quantitative"}, "y": {"field": "e", "type": "quantitative"}}},
            {"transform": [{"filter": "datum.g == 'Online'"}], "mark": {"type": "line", "color": "#00BFC4", "strokeWidth": 2, "xOffset": -4},
             "encoding": {"x": {"field": "w", "type": "quantitative"}, "y": {"field": "e", "type": "quantitative"}}},
            {"transform": [{"filter": "datum.g == 'In-person'"}], "mark": {"type": "point", "shape": "circle", "filled": true, "opacity": 1, "size": 80, "color": "#F8766D", "xOffset": 4},
             "encoding": {"x": {"field": "w", "type": "quantitative"}, "y": {"field": "e", "type": "quantitative"}}},
            {"transform": [{"filter": "datum.g == 'Online'"}], "mark": {"type": "point", "shape": "triangle-up", "filled": true, "opacity": 1, "size": 120, "color": "#00BFC4", "xOffset": -4},
             "encoding": {"x": {"field": "w", "type": "quantitative"}, "y": {"field": "e", "type": "quantitative"}}},
            {"transform": [{"filter": "false"}], "mark": {"type": "point", "filled": true, "opacity": 1, "size": 1089, "strokeWidth": 2.2},
             "encoding": {
               "x": {"field": "w", "type": "quantitative"},
               "y": {"field": "e", "type": "quantitative"},
               "fill": {"field": "g", "type": "nominal", "scale": {"domain": ["In-person", "Online"], "range": ["#F8766D", "#00BFC4"]},
                 "legend": {"title": null, "orient": "none", "legendX": 488, "legendY": 635, "direction": "horizontal", "labelFontSize": 15.5, "labelColor": "black", "labelOffset": 16, "columnPadding": 12, "symbolSize": 1089, "symbolStrokeWidth": 2.2, "padding": 0}},
               "stroke": {"field": "g", "type": "nominal", "scale": {"domain": ["In-person", "Online"], "range": ["#F8766D", "#00BFC4"]},
                 "legend": {"title": null, "orient": "none", "legendX": 488, "legendY": 635, "direction": "horizontal", "labelFontSize": 15.5, "labelColor": "black", "labelOffset": 16, "columnPadding": 12, "symbolSize": 1089, "symbolStrokeWidth": 2.2, "padding": 0}},
               "shape": {"field": "g", "type": "nominal", "scale": {"domain": ["In-person", "Online"], "range": ["M-1,0L1,0M0,-1L0,1M-0.3,0A0.3,0.3,0,1,1,0.3,0A0.3,0.3,0,1,1,-0.3,0Z", "M-1,0L1,0M0,-1L0,1M0,-0.38L0.34,0.22L-0.34,0.22Z"]},
                 "legend": {"title": null, "orient": "none", "legendX": 488, "legendY": 635, "direction": "horizontal", "labelFontSize": 15.5, "labelColor": "black", "labelOffset": 16, "columnPadding": 12, "symbolSize": 1089, "symbolStrokeWidth": 2.2, "padding": 0}}
             }}
          ]
        }
      ],
      "spacing": 29
    }
  ],
  "spacing": 26,
  "config": {
    "font": "Liberation Sans",
    "view": {"stroke": null},
    "axis": {"grid": true, "gridColor": "#EBEBEB", "domainColor": "black", "domainWidth": 1.8, "tickColor": "#333333", "tickWidth": 1.4, "tickSize": 5, "labelColor": "#4D4D4D", "labelFontSize": 14.5, "titleFontSize": 20.5, "titleFontWeight": "normal", "titleColor": "black", "labelOverlap": false, "labelFlush": false},
    "axisX": {"labelPadding": 2, "titlePadding": 8},
    "axisY": {"labelPadding": 4},
    "title": {"fontSize": 20.5, "fontWeight": "normal", "anchor": "start", "frame": "group", "color": "black", "baseline": "alphabetic"},
    "legend": {"labelFont": "Liberation Sans"}
  }
}
